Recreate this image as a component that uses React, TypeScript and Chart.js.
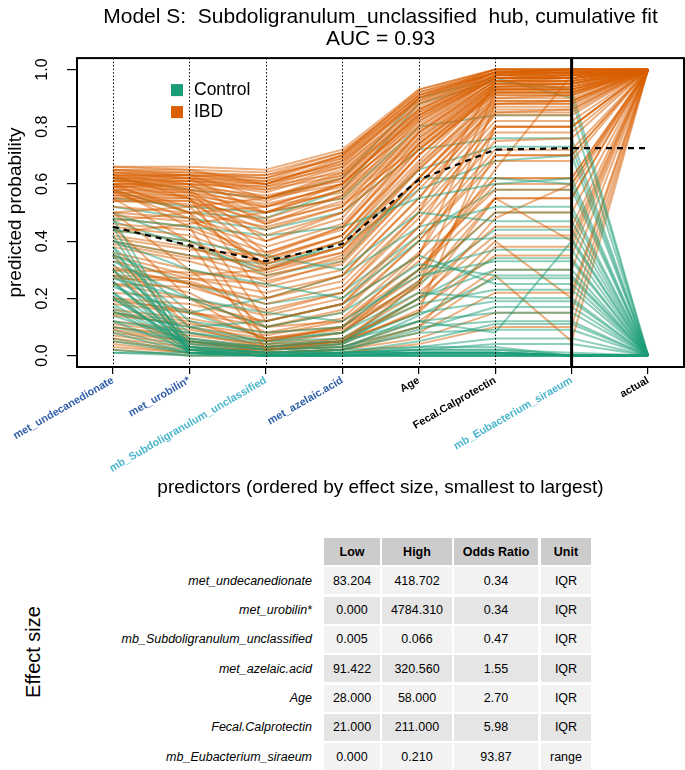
import React, { useEffect, useRef } from "react";
import { Chart, registerables } from "chart.js";

Chart.register(...registerables);

const FONT = '"Liberation Sans", Arial, Helvetica, sans-serif';

// ---------------- data ----------------
const titleLines = ["Model S:  Subdoligranulum_unclassified  hub, cumulative fit", "AUC = 0.93"];
const xAxisTitle = "predictors (ordered by effect size, smallest to largest)";
const yAxisTitle = "predicted probability";
const predictorNames = [
  "met_undecanedionate",
  "met_urobilin*",
  "mb_Subdoligranulum_unclassified",
  "met_azelaic.acid",
  "Age",
  "Fecal.Calprotectin",
  "mb_Eubacterium_siraeum",
];
const axisLabels = [...predictorNames, "actual"];
const yTicks = [0, 0.2, 0.4, 0.6, 0.8, 1.0];
const legendLabels = ["Control", "IBD"];
const ibdActual = 1;
const controlActual = 0;

// cumulative predicted probability (dashed black line)
const meanProbability = [0.45, 0.385, 0.33, 0.39, 0.615, 0.72, 0.725, 0.725];

// one row per IBD sample: predicted probability after adding each predictor
const ibdRows: number[][] = [
  [0.66, 0.66, 0.65, 0.72, 0.93, 1.0, 1.0],
  [0.65, 0.65, 0.64, 0.71, 0.92, 1.0, 1.0],
  [0.65, 0.64, 0.62, 0.7, 0.91, 0.99, 1.0],
  [0.64, 0.64, 0.63, 0.69, 0.9, 1.0, 1.0],
  [0.64, 0.63, 0.6, 0.68, 0.89, 0.99, 0.99],
  [0.63, 0.63, 0.61, 0.67, 0.9, 0.99, 1.0],
  [0.63, 0.62, 0.58, 0.66, 0.88, 0.99, 0.99],
  [0.62, 0.62, 0.6, 0.66, 0.87, 0.99, 0.99],
  [0.62, 0.61, 0.57, 0.65, 0.86, 0.98, 0.99],
  [0.61, 0.61, 0.59, 0.64, 0.85, 0.98, 0.98],
  [0.61, 0.6, 0.55, 0.63, 0.84, 0.98, 0.98],
  [0.6, 0.6, 0.58, 0.63, 0.86, 0.99, 1.0],
  [0.6, 0.59, 0.54, 0.62, 0.83, 0.97, 0.98],
  [0.59, 0.59, 0.56, 0.61, 0.82, 0.97, 0.97],
  [0.59, 0.58, 0.52, 0.6, 0.84, 0.98, 0.99],
  [0.58, 0.58, 0.55, 0.6, 0.8, 0.96, 0.97],
  [0.58, 0.57, 0.5, 0.58, 0.79, 0.96, 0.96],
  [0.57, 0.57, 0.53, 0.59, 0.81, 0.97, 0.98],
  [0.57, 0.56, 0.48, 0.56, 0.77, 0.95, 0.95],
  [0.56, 0.56, 0.52, 0.57, 0.78, 0.95, 0.96],
  [0.56, 0.55, 0.46, 0.54, 0.75, 0.94, 0.94],
  [0.55, 0.55, 0.5, 0.55, 0.76, 0.94, 0.95],
  [0.55, 0.54, 0.44, 0.52, 0.74, 0.93, 0.93],
  [0.54, 0.54, 0.47, 0.53, 0.73, 0.92, 0.92],
  [0.54, 0.53, 0.42, 0.5, 0.72, 0.91, 0.91],
  [0.66, 0.65, 0.6, 0.69, 0.91, 0.99, 0.99],
  [0.65, 0.63, 0.55, 0.64, 0.88, 0.98, 0.99],
  [0.64, 0.62, 0.5, 0.6, 0.85, 0.97, 0.98],
  [0.63, 0.6, 0.46, 0.56, 0.82, 0.97, 0.97],
  [0.62, 0.58, 0.4, 0.5, 0.78, 0.96, 0.96],
  [0.61, 0.57, 0.36, 0.45, 0.74, 0.95, 0.95],
  [0.6, 0.55, 0.34, 0.42, 0.7, 0.93, 0.94],
  [0.59, 0.52, 0.31, 0.38, 0.66, 0.92, 0.92],
  [0.58, 0.5, 0.3, 0.36, 0.62, 0.9, 0.9],
  [0.57, 0.48, 0.32, 0.4, 0.68, 0.93, 0.93],
  [0.63, 0.63, 0.62, 0.7, 0.93, 1.0, 1.0],
  [0.62, 0.63, 0.63, 0.71, 0.92, 0.99, 0.99],
  [0.61, 0.62, 0.61, 0.7, 0.91, 1.0, 1.0],
  [0.6, 0.61, 0.6, 0.68, 0.9, 0.99, 0.99],
  [0.59, 0.6, 0.59, 0.67, 0.89, 0.99, 1.0],
  [0.63, 0.55, 0.2, 0.28, 0.55, 0.88, 0.88],
  [0.6, 0.5, 0.12, 0.18, 0.45, 0.85, 0.86],
  [0.58, 0.45, 0.05, 0.1, 0.35, 0.8, 0.8],
  [0.55, 0.4, 0.02, 0.05, 0.25, 0.7, 0.7],
  [0.52, 0.5, 0.45, 0.52, 0.8, 0.97, 0.97],
  [0.5, 0.48, 0.4, 0.48, 0.78, 0.96, 0.96],
  [0.49, 0.47, 0.38, 0.46, 0.76, 0.95, 0.95],
  [0.48, 0.45, 0.36, 0.44, 0.74, 0.94, 0.94],
  [0.46, 0.44, 0.34, 0.42, 0.72, 0.93, 0.93],
  [0.45, 0.42, 0.32, 0.4, 0.7, 0.92, 0.92],
  [0.44, 0.4, 0.3, 0.38, 0.67, 0.9, 0.91],
  [0.42, 0.38, 0.29, 0.36, 0.65, 0.89, 0.89],
  [0.41, 0.37, 0.35, 0.45, 0.72, 0.94, 0.95],
  [0.4, 0.35, 0.28, 0.34, 0.62, 0.88, 0.88],
  [0.39, 0.34, 0.33, 0.42, 0.7, 0.93, 0.93],
  [0.38, 0.33, 0.26, 0.32, 0.6, 0.86, 0.86],
  [0.36, 0.3, 0.24, 0.3, 0.58, 0.85, 0.85],
  [0.35, 0.28, 0.3, 0.38, 0.65, 0.91, 0.91],
  [0.33, 0.27, 0.22, 0.28, 0.55, 0.84, 0.84],
  [0.31, 0.25, 0.2, 0.26, 0.52, 0.82, 0.82],
  [0.3, 0.29, 0.27, 0.35, 0.62, 0.89, 0.89],
  [0.28, 0.27, 0.25, 0.33, 0.6, 0.87, 0.87],
  [0.27, 0.26, 0.18, 0.24, 0.5, 0.8, 0.8],
  [0.25, 0.24, 0.16, 0.22, 0.48, 0.78, 0.78],
  [0.5, 0.52, 0.55, 0.62, 0.86, 0.98, 0.98],
  [0.47, 0.5, 0.52, 0.6, 0.84, 0.97, 0.97],
  [0.43, 0.46, 0.5, 0.58, 0.83, 0.97, 0.97],
  [0.22, 0.2, 0.14, 0.2, 0.45, 0.75, 0.76],
  [0.2, 0.18, 0.12, 0.18, 0.42, 0.72, 0.72],
  [0.18, 0.15, 0.1, 0.16, 0.4, 0.68, 0.68],
  [0.16, 0.13, 0.08, 0.13, 0.36, 0.62, 0.62],
  [0.14, 0.11, 0.07, 0.12, 0.33, 0.58, 0.58],
  [0.12, 0.09, 0.05, 0.1, 0.3, 0.55, 0.55],
  [0.1, 0.07, 0.04, 0.08, 0.26, 0.5, 0.5],
  [0.09, 0.05, 0.03, 0.06, 0.22, 0.45, 0.45],
  [0.07, 0.04, 0.03, 0.05, 0.2, 0.42, 0.42],
  [0.06, 0.03, 0.02, 0.04, 0.16, 0.35, 0.35],
  [0.05, 0.02, 0.02, 0.03, 0.12, 0.3, 0.3],
  [0.04, 0.01, 0.01, 0.02, 0.08, 0.22, 0.22],
  [0.03, 0.01, 0.01, 0.02, 0.06, 0.15, 0.15],
  [0.02, 0.0, 0.0, 0.01, 0.04, 0.1, 0.1],
  [0.25, 0.2, 0.1, 0.12, 0.3, 0.62, 0.62],
  [0.19, 0.16, 0.06, 0.09, 0.24, 0.55, 0.4],
  [0.15, 0.12, 0.04, 0.06, 0.18, 0.48, 0.6],
  [0.11, 0.08, 0.03, 0.05, 0.15, 0.4, 0.2],
  [0.08, 0.05, 0.02, 0.03, 0.1, 0.28, 0.05],
  [0.28, 0.22, 0.08, 0.1, 0.28, 0.65, 0.98],
  [0.2, 0.15, 0.12, 0.18, 0.35, 0.92, 0.92],
  [0.15, 0.1, 0.06, 0.1, 0.25, 0.88, 0.89],
  [0.1, 0.06, 0.03, 0.05, 0.15, 0.8, 0.8],
  [0.3, 0.25, 0.15, 0.22, 0.5, 0.96, 0.97],
  [0.35, 0.1, 0.03, 0.05, 0.2, 0.55, 0.55],
  [0.45, 0.2, 0.05, 0.08, 0.3, 0.6, 0.6],
  [0.5, 0.3, 0.1, 0.15, 0.4, 0.7, 0.7],
  [0.3, 0.05, 0.01, 0.02, 0.1, 0.38, 0.38],
];

// one row per Control sample
const controlRows: number[][] = [
  [0.45, 0.01, 0.0, 0.0, 0.01, 0.01, 0.0],
  [0.42, 0.02, 0.0, 0.01, 0.01, 0.01, 0.0],
  [0.38, 0.01, 0.0, 0.0, 0.0, 0.0, 0.0],
  [0.35, 0.02, 0.01, 0.01, 0.02, 0.02, 0.0],
  [0.3, 0.01, 0.0, 0.0, 0.01, 0.01, 0.0],
  [0.26, 0.02, 0.0, 0.01, 0.01, 0.01, 0.0],
  [0.22, 0.01, 0.0, 0.0, 0.0, 0.0, 0.0],
  [0.2, 0.03, 0.01, 0.02, 0.03, 0.03, 0.0],
  [0.16, 0.01, 0.0, 0.0, 0.01, 0.01, 0.0],
  [0.12, 0.02, 0.0, 0.01, 0.01, 0.01, 0.0],
  [0.08, 0.01, 0.0, 0.0, 0.0, 0.0, 0.0],
  [0.05, 0.01, 0.0, 0.0, 0.01, 0.01, 0.0],
  [0.02, 0.0, 0.0, 0.0, 0.0, 0.0, 0.0],
  [0.01, 0.0, 0.0, 0.0, 0.0, 0.0, 0.0],
  [0.01, 0.01, 0.0, 0.0, 0.0, 0.0, 0.0],
  [0.48, 0.03, 0.01, 0.01, 0.02, 0.02, 0.01],
  [0.48, 0.45, 0.42, 0.45, 0.55, 0.6, 0.62],
  [0.44, 0.4, 0.35, 0.3, 0.5, 0.47, 0.47],
  [0.4, 0.3, 0.25, 0.2, 0.4, 0.41, 0.41],
  [0.36, 0.12, 0.08, 0.1, 0.3, 0.37, 0.37],
  [0.33, 0.2, 0.15, 0.12, 0.28, 0.33, 0.33],
  [0.3, 0.1, 0.05, 0.06, 0.2, 0.3, 0.3],
  [0.28, 0.08, 0.04, 0.05, 0.18, 0.23, 0.23],
  [0.25, 0.06, 0.03, 0.04, 0.15, 0.19, 0.19],
  [0.22, 0.05, 0.02, 0.03, 0.12, 0.15, 0.15],
  [0.2, 0.04, 0.02, 0.03, 0.1, 0.12, 0.12],
  [0.18, 0.03, 0.01, 0.02, 0.08, 0.09, 0.09],
  [0.15, 0.1, 0.12, 0.18, 0.35, 0.25, 0.25],
  [0.12, 0.08, 0.05, 0.08, 0.22, 0.2, 0.2],
  [0.1, 0.05, 0.03, 0.05, 0.12, 0.08, 0.4],
  [0.24, 0.15, 0.2, 0.28, 0.45, 0.52, 0.52],
  [0.5, 0.4, 0.28, 0.33, 0.62, 0.62, 0.6],
  [0.27, 0.2, 0.1, 0.15, 0.32, 0.28, 0.28],
  [0.58, 0.5, 0.48, 0.58, 0.88, 0.96, 0.93],
  [0.55, 0.52, 0.5, 0.55, 0.8, 0.84, 0.84],
  [0.52, 0.48, 0.44, 0.5, 0.72, 0.76, 0.76],
  [0.47, 0.38, 0.3, 0.4, 0.65, 0.73, 0.73],
  [0.4, 0.35, 0.32, 0.38, 0.58, 0.68, 0.7],
  [0.62, 0.58, 0.55, 0.62, 0.9, 0.97, 0.9],
  [0.32, 0.06, 0.02, 0.04, 0.25, 0.44, 0.44],
  [0.26, 0.04, 0.01, 0.02, 0.14, 0.27, 0.27],
  [0.21, 0.03, 0.01, 0.02, 0.09, 0.17, 0.17],
  [0.17, 0.02, 0.01, 0.01, 0.05, 0.11, 0.11],
  [0.14, 0.05, 0.02, 0.04, 0.2, 0.34, 0.34],
  [0.38, 0.15, 0.06, 0.08, 0.26, 0.5, 0.5],
  [0.09, 0.02, 0.0, 0.01, 0.03, 0.06, 0.06],
  [0.35, 0.25, 0.18, 0.22, 0.42, 0.58, 0.58],
  [0.06, 0.01, 0.0, 0.01, 0.02, 0.04, 0.04],
];

// effect size table
const tableHeaders = ["Low", "High", "Odds Ratio", "Unit"];
const lowValues = [83.204, 0.0, 0.005, 91.422, 28.0, 21.0, 0.0];
const highValues = [418.702, 4784.31, 0.066, 320.56, 58.0, 211.0, 0.21];
const oddsRatios = [0.34, 0.34, 0.47, 1.55, 2.7, 5.98, 93.87];
const units = ["IQR", "IQR", "IQR", "IQR", "IQR", "IQR", "range"];
const tableSideTitle = "Effect size";

// ---------------- styles ----------------
const CONTROL = "#1b9e77";
const IBD = "#d95f02";
const CONTROL_LINE = "rgba(27,158,119,0.5)";
const IBD_LINE = "rgba(217,95,2,0.5)";

function labelColor(name: string): string {
  if (name.startsWith("met_")) return "#2f5ea9";
  if (name.startsWith("mb_")) return "#4ab5cd";
  return "#000000";
}

const toPoints = (row: number[], actual: number) =>
  [...row, actual].map((v, i) => ({ x: i, y: v }));

const decorPlugin = {
  id: "decor",
  afterDatasetsDraw(chart: any) {
    const { ctx, chartArea: ca, scales } = chart;
    const x = scales.x;
    ctx.save();
    ctx.strokeStyle = "#000";
    // dotted verticals
    ctx.lineWidth = 1;
    ctx.setLineDash([1.5, 2]);
    for (let i = 0; i < predictorNames.length - 1; i++) {
      const px = Math.round(x.getPixelForValue(i)) + 0.5;
      ctx.beginPath();
      ctx.moveTo(px, ca.top);
      ctx.lineTo(px, ca.bottom);
      ctx.stroke();
    }
    ctx.setLineDash([]);
    // solid separator before "actual"
    ctx.lineWidth = 3;
    const sx = x.getPixelForValue(predictorNames.length - 1);
    ctx.beginPath();
    ctx.moveTo(sx, ca.top);
    ctx.lineTo(sx, ca.bottom);
    ctx.stroke();
    // box
    ctx.lineWidth = 2;
    ctx.strokeRect(ca.left, ca.top, ca.right - ca.left, ca.bottom - ca.top);
    // legend
    const lx = ca.left + 94;
    const ly = ca.top + 26;
    const colors = [CONTROL, IBD];
    ctx.font = `17.5px ${FONT}`;
    ctx.textBaseline = "middle";
    ctx.textAlign = "left";
    legendLabels.forEach((lab, i) => {
      const yy = ly + i * 22;
      ctx.fillStyle = colors[i];
      ctx.fillRect(lx, yy, 12, 12);
      ctx.fillStyle = "#000";
      ctx.fillText(lab, lx + 23, yy + 6);
    });
    ctx.restore();
  },
  afterDraw(chart: any) {
    const { ctx, scales } = chart;
    const y = scales.y;
    ctx.save();
    ctx.fillStyle = "#000";
    ctx.font = `16px ${FONT}`;
    ctx.textAlign = "center";
    ctx.textBaseline = "middle";
    yTicks.forEach((v) => {
      const py = y.getPixelForValue(v);
      ctx.save();
      ctx.translate(43, py);
      ctx.rotate(-Math.PI / 2);
      ctx.fillText(v.toFixed(1), 0, 0);
      ctx.restore();
    });
    ctx.restore();
  },
};

function buildDatasets() {
  const ds: any[] = [];
  ds.push({
    label: "mean",
    data: meanProbability.map((v, i) => ({ x: i, y: v })),
    borderColor: "#000",
    borderWidth: 2.2,
    borderDash: [6, 5],
    pointRadius: 0,
    tension: 0,
    fill: false,
    order: 0,
  });
  let c = 0;
  const pushControl = () => {
    ds.push({
      label: "Control",
      data: toPoints(controlRows[c], controlActual),
      borderColor: CONTROL_LINE,
      borderWidth: 2,
      pointRadius: 0,
      tension: 0,
      fill: false,
      order: 1,
    });
    c++;
  };
  ibdRows.forEach((row, k) => {
    ds.push({
      label: "IBD",
      data: toPoints(row, ibdActual),
      borderColor: IBD_LINE,
      borderWidth: 2,
      pointRadius: 0,
      tension: 0,
      fill: false,
      order: 1,
    });
    if (k % 2 === 1 && c < controlRows.length) pushControl();
  });
  while (c < controlRows.length) pushControl();
  return ds;
}

export default function App() {
  const ref = useRef<HTMLCanvasElement>(null);
  useEffect(() => {
    document.body.style.margin = "0";
    const chart = new Chart(ref.current as HTMLCanvasElement, {
      type: "line",
      data: { datasets: buildDatasets() },
      options: {
        animation: false,
        responsive: true,
        maintainAspectRatio: false,
        events: [],
        layout: { padding: { top: 0, left: 0, right: 1, bottom: 0 } },
        plugins: {
          legend: { display: false },
          tooltip: { enabled: false },
          title: {
            display: true,
            text: titleLines,
            fullSize: false,
            color: "#000",
            font: { family: FONT, size: 21, weight: "normal", lineHeight: 1.05 },
            padding: { top: 6, bottom: 8 },
          },
        },
        scales: {
          x: {
            type: "linear",
            min: -0.47,
            max: 7.47,
            afterBuildTicks: (s: any) => {
              s.ticks = axisLabels.map((_, i) => ({ value: i }));
            },
            afterFit: (s: any) => {
              s.height = 138;
            },
            ticks: {
              autoSkip: false,
              minRotation: 30,
              maxRotation: 30,
              padding: 0,
              font: { family: FONT, size: 10.8, weight: "bold" },
              color: (c: any) => labelColor(axisLabels[c.index] ?? ""),
              callback: (_v: any, i: number) => axisLabels[i],
            },
            grid: {
              display: true,
              drawOnChartArea: false,
              drawTicks: true,
              tickLength: 7,
              color: "#000",
              lineWidth: 1.2,
            },
            border: { display: false },
            title: {
              display: true,
              text: xAxisTitle,
              color: "#000",
              font: { family: FONT, size: 19 },
              padding: { top: 0, bottom: 6 },
            },
          },
          y: {
            type: "linear",
            min: -0.04,
            max: 1.04,
            afterBuildTicks: (s: any) => {
              s.ticks = yTicks.map((v) => ({ value: v }));
            },
            afterFit: (s: any) => {
              s.width = 77;
            },
            ticks: { display: false },
            grid: {
              display: true,
              drawOnChartArea: false,
              drawTicks: true,
              tickLength: 10,
              color: "#000",
              lineWidth: 1.2,
            },
            border: { display: false },
            title: {
              display: true,
              text: yAxisTitle,
              color: "#000",
              font: { family: FONT, size: 19 },
              padding: { top: 4, bottom: 0 },
            },
          },
        },
      } as any,
      plugins: [decorPlugin],
    });
    return () => chart.destroy();
  }, []);

  const colLeft = [324, 382, 454, 541];
  const colWidth = [56, 70, 84, 50];
  const headTop = 538;
  const pitch = 29.3;
  const cellH = 27;
  const cellBase: React.CSSProperties = {
    position: "absolute",
    display: "flex",
    alignItems: "center",
    justifyContent: "center",
    fontSize: 12.5,
    color: "#000",
  };

  const rowCells = (i: number) => [
    lowValues[i].toFixed(3),
    highValues[i].toFixed(3),
    oddsRatios[i].toFixed(2),
    units[i],
  ];

  return (
    <div style={{ position: "relative", width: 685, height: 770, background: "#fff", fontFamily: FONT, overflow: "hidden" }}>
      <div style={{ position: "absolute", left: 0, top: 0, width: 685, height: 505 }}>
        <canvas ref={ref} />
      </div>
      <div
        style={{
          position: "absolute",
          left: 33,
          top: 652,
          transform: "translate(-50%, -50%) rotate(-90deg)",
          fontSize: 20,
          whiteSpace: "nowrap",
          color: "#000",
        }}
      >
        {tableSideTitle}
      </div>
      {tableHeaders.map((h, j) => (
        <div
          key={"h" + j}
          style={{ ...cellBase, left: colLeft[j], top: headTop, width: colWidth[j], height: cellH, background: "#cccccc", fontWeight: "bold" }}
        >
          {h}
        </div>
      ))}
      {predictorNames.map((name, i) => {
        const top = headTop + (i + 1) * pitch;
        return (
          <React.Fragment key={"r" + i}>
            <div
              style={{ ...cellBase, left: 0, top, width: 312, height: cellH, justifyContent: "flex-end", fontStyle: "italic" }}
            >
              {name}
            </div>
            {rowCells(i).map((txt, j) => (
              <div
                key={"c" + i + "-" + j}
                style={{ ...cellBase, left: colLeft[j], top, width: colWidth[j], height: cellH, background: i % 2 === 0 ? "#f2f2f2" : "#e5e5e5" }}
              >
                {txt}
              </div>
            ))}
          </React.Fragment>
        );
      })}
    </div>
  );
}
